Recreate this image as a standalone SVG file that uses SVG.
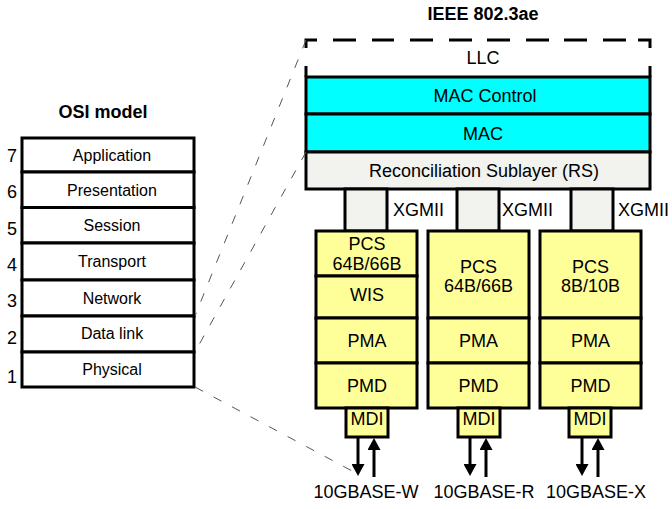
<svg xmlns="http://www.w3.org/2000/svg" width="672" height="509" viewBox="0 0 672 509">
<style>
text{font-family:"Liberation Sans",Arial,sans-serif;fill:#000}
.s16{font-size:16px;text-anchor:middle}
.s18{font-size:18px;text-anchor:middle}
.n18{font-size:18px;text-anchor:middle}
.b18{font-size:18px;font-weight:bold;text-anchor:middle}
.x18{font-size:18px}
.box{stroke:#000;stroke-width:3}
.osi{fill:#fff}
.cy{fill:#00ffff}
.gr{fill:#f2f2ee}
.ye{fill:#ffff99}
.dash{stroke:#555;stroke-width:1;stroke-dasharray:9 12;fill:none}
.arr{stroke:#000;stroke-width:3;fill:none}
</style>
<defs>
<marker id="ah" markerUnits="userSpaceOnUse" markerWidth="12" markerHeight="13" viewBox="0 0 12 13" refX="4" refY="6.5" orient="auto">
<path d="M0,0 L12,6.5 L0,13 Z" fill="#000"/>
</marker>
</defs>
<rect width="672" height="509" fill="#fff"/>

<text id="osi-title" class="b18" x="103" y="118">OSI model</text>
<text id="ieee-title" class="b18" x="483" y="20">IEEE 802.3ae</text>

<g id="osi-7"><rect class="box osi" x="22" y="138" width="172" height="34"/><text class="s16" x="112" y="161">Application</text><text class="n18" x="12" y="162">7</text></g>
<g id="osi-6"><rect class="box osi" x="22" y="172" width="172" height="35.5"/><text class="s16" x="112" y="196">Presentation</text><text class="n18" x="12" y="198">6</text></g>
<g id="osi-5"><rect class="box osi" x="22" y="207.5" width="172" height="35.5"/><text class="s16" x="112" y="231">Session</text><text class="n18" x="12" y="235">5</text></g>
<g id="osi-4"><rect class="box osi" x="22" y="243" width="172" height="37"/><text class="s16" x="112" y="267">Transport</text><text class="n18" x="12" y="271">4</text></g>
<g id="osi-3"><rect class="box osi" x="22" y="280" width="172" height="36"/><text class="s16" x="112" y="304">Network</text><text class="n18" x="12" y="307">3</text></g>
<g id="osi-2"><rect class="box osi" x="22" y="316" width="172" height="36"/><text class="s16" x="112" y="339">Data link</text><text class="n18" x="12" y="344">2</text></g>
<g id="osi-1"><rect class="box osi" x="22" y="352" width="172" height="35"/><text class="s16" x="112" y="375">Physical</text><text class="n18" x="12" y="383">1</text></g>

<g id="llc">
<path d="M306,77 V66 M306,48 V40 H317 M333,40 H356 M372,40 H394 M410,40 H433 M449,40 H472 M487,40 H510 M526,40 H549 M564,40 H587 M603,40 H626 M638,40 H650 V48 M650,66 V77" fill="none" stroke="#000" stroke-width="3"/>
<text class="s18" x="483" y="64">LLC</text>
</g>
<g id="mac-control"><rect class="box cy" x="306" y="77" width="344" height="37"/><text class="s18" x="485" y="102">MAC Control</text></g>
<g id="mac"><rect class="box cy" x="306" y="114" width="344" height="38"/><text class="s18" x="483" y="140">MAC</text></g>
<g id="rs"><rect class="box gr" x="306" y="152" width="344" height="37"/><text class="s18" x="484" y="177">Reconciliation Sublayer (RS)</text></g>

<g id="xgmii-1"><rect class="box gr" x="345" y="189" width="42" height="42"/><text class="x18" x="393" y="216">XGMII</text></g>
<g id="xgmii-2"><rect class="box gr" x="457" y="189" width="42" height="42"/><text class="x18" x="502" y="216">XGMII</text></g>
<g id="xgmii-3"><rect class="box gr" x="571" y="189" width="42" height="42"/><text class="x18" x="618" y="216">XGMII</text></g>

<g id="col-w">
<rect class="box ye" x="316" y="231" width="101" height="45"/><text class="s18" x="367" y="250">PCS</text><text class="s18" x="367" y="270">64B/66B</text>
<rect class="box ye" x="316" y="276" width="101" height="42"/><text class="s18" x="367" y="301">WIS</text>
<rect class="box ye" x="316" y="318" width="101" height="45"/><text class="s18" x="367" y="347">PMA</text>
<rect class="box ye" x="316" y="363" width="101" height="45"/><text class="s18" x="367" y="392">PMD</text>
<rect class="box ye" x="346" y="408" width="42" height="29"/><text class="s18" x="367" y="425">MDI</text>
<text class="s18" x="366" y="498">10GBASE-W</text>
</g>
<g id="col-r">
<rect class="box ye" x="428" y="231" width="101" height="87"/><text class="s18" x="478.5" y="273">PCS</text><text class="s18" x="478.5" y="292">64B/66B</text>
<rect class="box ye" x="428" y="318" width="101" height="45"/><text class="s18" x="478.5" y="347">PMA</text>
<rect class="box ye" x="428" y="363" width="101" height="45"/><text class="s18" x="478.5" y="392">PMD</text>
<rect class="box ye" x="458" y="408" width="42" height="29"/><text class="s18" x="479" y="425">MDI</text>
<text class="s18" x="484" y="498">10GBASE-R</text>
</g>
<g id="col-x">
<rect class="box ye" x="540" y="231" width="101" height="87"/><text class="s18" x="590.5" y="273">PCS</text><text class="s18" x="590.5" y="292">8B/10B</text>
<rect class="box ye" x="540" y="318" width="101" height="45"/><text class="s18" x="590.5" y="347">PMA</text>
<rect class="box ye" x="540" y="363" width="101" height="45"/><text class="s18" x="590.5" y="392">PMD</text>
<rect class="box ye" x="569" y="408" width="42" height="29"/><text class="s18" x="590" y="425">MDI</text>
<text class="s18" x="596" y="498">10GBASE-X</text>
</g>

<g id="connectors">
<line class="dash" x1="306" y1="40" x2="195" y2="316"/>
<line class="dash" x1="306" y1="152" x2="195" y2="352"/>
<line class="dash" x1="195" y1="387" x2="354" y2="472"/>
<line class="arr" x1="358" y1="437" x2="358" y2="468" marker-end="url(#ah)"/>
<line class="arr" x1="374" y1="477" x2="374" y2="446" marker-end="url(#ah)"/>
<line class="arr" x1="470" y1="437" x2="470" y2="468" marker-end="url(#ah)"/>
<line class="arr" x1="486" y1="477" x2="486" y2="446" marker-end="url(#ah)"/>
<line class="arr" x1="582" y1="437" x2="582" y2="468" marker-end="url(#ah)"/>
<line class="arr" x1="598" y1="477" x2="598" y2="446" marker-end="url(#ah)"/>
</g>
</svg>
